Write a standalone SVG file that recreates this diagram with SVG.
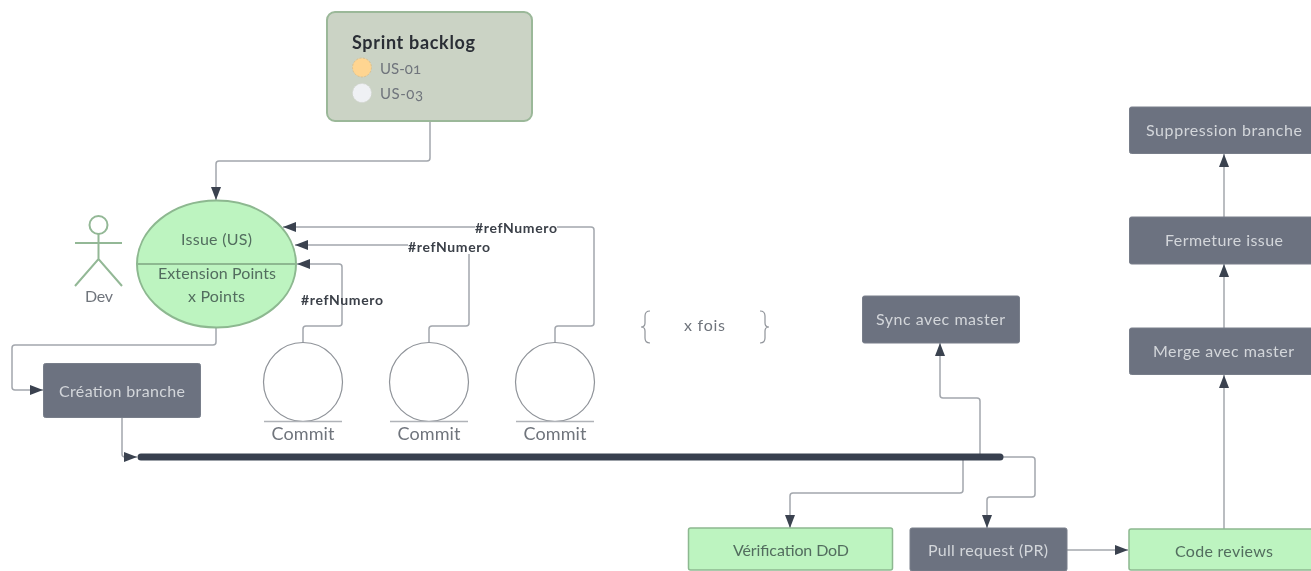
<svg xmlns="http://www.w3.org/2000/svg" width="1311" height="571" viewBox="0 0 1311 571">
<style>
text{font-family:"Lato","Liberation Sans",sans-serif;font-size:16px;text-anchor:middle;dominant-baseline:central}
.conn{fill:none;stroke:#a3a7ad;stroke-width:1.5;stroke-linejoin:round}
.gray{fill:#6c7280;stroke:#787e8a;stroke-width:1}
.green{fill:#bdf4c0;stroke:#8db890;stroke-width:1.5}
.tl{fill:#d3d6da}
.tg{fill:#526d5e}
.tm{fill:#6f747c}
.ref{fill:#3b4048;font-weight:700;font-size:14px}
.ol{fill:none;stroke:#8f9399;stroke-width:1.2}
.ul{stroke:#b0b3b8;stroke-width:1.4}
.act{fill:none;stroke:#93b896;stroke-width:2}
.com{font-size:18px}
.num{font-feature-settings:"onum";font-size:15px}
</style>
<defs>
<marker id="a" viewBox="0 0 13 11" refX="13" refY="5.500" markerWidth="13" markerHeight="11" markerUnits="userSpaceOnUse" orient="auto"><path d="M0 0.500L13 5.500L0 10.500Z" fill="#3a4350"/></marker>
<filter id="soft" x="0" y="0" width="1311" height="571" filterUnits="userSpaceOnUse"><feGaussianBlur stdDeviation="0.6"/></filter>
</defs>
<rect width="1311" height="571" fill="#fff"/>
<g filter="url(#soft)">
<g id="connectors">
<path class="conn" marker-end="url(#a)" d="M430 121V158Q430 161 427 161H219Q216 161 216 164V200"/>
<path class="conn" marker-end="url(#a)" d="M216 327V342Q216 345 213 345H15Q12 345 12 348V387Q12 390 15 390H43"/>
<path class="conn" marker-end="url(#a)" d="M122 418V454Q122 457 125 457H137"/>
<path class="conn" marker-end="url(#a)" d="M303 343V329Q303 326 306 326H339Q342 326 342 323V267Q342 264 339 264H297"/>
<path class="conn" marker-end="url(#a)" d="M429 343V329Q429 326 432 326H466Q469 326 469 323V245H295"/>
<path class="conn" marker-end="url(#a)" d="M555 343V329Q555 326 558 326H591Q594 326 594 323V230Q594 227 591 227H283"/>
<path class="conn" marker-end="url(#a)" d="M980 457V401Q980 398 977 398H943Q940 398 940 395V343"/>
<path class="conn" marker-end="url(#a)" d="M963 458V490Q963 493 960 493H793Q790 493 790 496V528"/>
<path class="conn" marker-end="url(#a)" d="M1003 457H1032Q1035 457 1035 460V494Q1035 497 1032 497H990Q987 497 987 500V528"/>
<path class="conn" marker-end="url(#a)" d="M1067 550H1128"/>
<path class="conn" marker-end="url(#a)" d="M1224 529V375"/>
<path class="conn" marker-end="url(#a)" d="M1224 328V264"/>
<path class="conn" marker-end="url(#a)" d="M1224 217V154"/>
<text class="ref" x="342" y="299.500" textLength="82">#refNumero</text>
<rect x="408" y="239" width="82" height="15" fill="#fff"/>
<text class="ref" x="449" y="246.500" textLength="82">#refNumero</text>
<rect x="475" y="221" width="82" height="15" fill="#fff"/>
<text class="ref" x="516" y="227.500" textLength="82">#refNumero</text>
</g>
<g id="timeline"><path d="M141 457H1000" stroke="#39414f" stroke-width="7" stroke-linecap="round"/></g>
<g id="sprint-backlog">
<rect x="327" y="12" width="205" height="109" rx="8" fill="#cbd3c5" stroke="#9bb899" stroke-width="2"/>
<text x="413.500" y="41.500" style="font-size:18px;font-weight:700;fill:#2b2f36" textLength="123">Sprint backlog</text>
<circle cx="362" cy="67.500" r="9.500" fill="#ffd591" stroke="#d9c08f" stroke-dasharray="2 1.500"/>
<text x="400.500" y="67.500" class="tm num" textLength="41">US-01</text>
<circle cx="362" cy="93" r="9.500" fill="#eff1f4" stroke="#d5d8d4" stroke-dasharray="2 1.500"/>
<text x="401.500" y="92.500" class="tm num" textLength="43">US-03</text>
</g>
<g id="dev">
<circle class="act" cx="98.500" cy="225" r="9"/>
<path class="act" d="M98.500 234V259M75 243H122M75 286L98.500 259L122 286"/>
<text x="99" y="295.500" class="tm" textLength="28">Dev</text>
</g>
<g id="issue">
<ellipse cx="216.500" cy="264" rx="79.500" ry="63.500" fill="#bdf4c0" stroke="#8db890" stroke-width="2"/>
<path d="M137 264H296" stroke="#8db890" stroke-width="2"/>
<text class="tg" x="216.500" y="238.500" textLength="71">Issue (US)</text>
<text class="tg" x="217" y="272.500" textLength="118">Extension Points</text>
<text class="tg" x="216.500" y="295" textLength="57">x Points</text>
</g>
<g id="creation-branche"><rect class="gray" x="43.500" y="363.500" width="157" height="54" rx="2"/><text class="tl" x="122" y="390.500" textLength="126">Création branche</text></g>
<g id="commit-1"><circle class="ol" cx="303" cy="382" r="39.500"/><path class="ul" d="M264 421.500H342"/><text class="tm com" x="303" y="432.500" textLength="63">Commit</text></g>
<g id="commit-2"><circle class="ol" cx="429" cy="382" r="39.500"/><path class="ul" d="M390 421.500H468"/><text class="tm com" x="429" y="432.500" textLength="63">Commit</text></g>
<g id="commit-3"><circle class="ol" cx="555" cy="382" r="39.500"/><path class="ul" d="M516 421.500H594"/><text class="tm com" x="555" y="432.500" textLength="63">Commit</text></g>
<g id="x-fois">
<path class="ol" d="M650 311Q645 311 645 316V323Q645 327 641 327Q645 327 645 331V338Q645 343 650 343"/>
<path class="ol" d="M760 311Q765 311 765 316V323Q765 327 769 327Q765 327 765 331V338Q765 343 760 343"/>
<text x="704.500" y="324.500" class="tm" textLength="41">x fois</text>
</g>
<g id="sync"><rect class="gray" x="862.500" y="296" width="157" height="47" rx="2"/><text class="tl" x="940.500" y="318.500" textLength="129">Sync avec master</text></g>
<g id="verification"><rect class="green" x="688.500" y="528" width="204" height="42" rx="2"/><text class="tg" x="791" y="549.500" textLength="116">Vérification DoD</text></g>
<g id="pull-request"><rect class="gray" x="910" y="528" width="157" height="43" rx="2"/><text class="tl" x="988" y="549.500" textLength="120">Pull request (PR)</text></g>
<g id="code-reviews"><rect class="green" x="1129" y="529" width="190" height="41" rx="2"/><text class="tg" x="1224" y="550" textLength="98">Code reviews</text></g>
<g id="merge"><rect class="gray" x="1129.500" y="328" width="190" height="46.500" rx="2"/><text class="tl" x="1223.500" y="350" textLength="141">Merge avec master</text></g>
<g id="fermeture"><rect class="gray" x="1129.500" y="217" width="190" height="47" rx="2"/><text class="tl" x="1224" y="239.500" textLength="118">Fermeture issue</text></g>
<g id="suppression"><rect class="gray" x="1129.500" y="107" width="190" height="46.500" rx="2"/><text class="tl" x="1224" y="129" textLength="156">Suppression branche</text></g>
</g>
</svg>
